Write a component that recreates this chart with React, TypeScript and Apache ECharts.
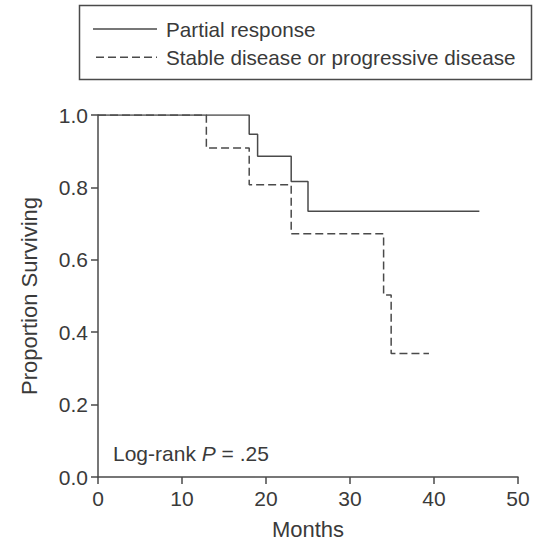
import React, { useEffect, useRef } from "react";
import * as echarts from "echarts";

const seriesNames = ["Partial response", "Stable disease or progressive disease"];
const partialMonths = [0, 18, 19, 23, 25, 45.4];
const partialSurvival = [1.0, 0.947, 0.886, 0.816, 0.734, 0.734];
const stableMonths = [0, 12.9, 18, 23, 34, 34.9, 39.4];
const stableSurvival = [1.0, 0.909, 0.807, 0.672, 0.503, 0.341, 0.341];
const xTicks = [0, 10, 20, 30, 40, 50];
const yTicks = [0, 0.2, 0.4, 0.6, 0.8, 1.0];
const annotation = { prefix: "Log-rank ", stat: "P", suffix: " = .25" };

const FONT = "Liberation Sans, Arial, Helvetica, sans-serif";
const INK = "#3a3a3a";
const LINE = "#4a4a4a";
const DASH = [8, 4];

export default function App() {
  const ref = useRef<HTMLDivElement>(null);
  useEffect(() => {
    document.body.style.margin = "0";
    if (!ref.current) return;
    const chart = echarts.init(ref.current, null, { renderer: "svg" });
    const zip = (xs: number[], ys: number[]) => xs.map((x, i) => [x, ys[i]]);
    const legendRows = [
      { y: 29, x1: 93, dash: null as number[] | null },
      { y: 57.3, x1: 96, dash: DASH },
    ];
    const legendGraphics: any[] = [];
    legendRows.forEach((row, i) => {
      legendGraphics.push({
        type: "line",
        shape: { x1: row.x1, y1: row.y, x2: 157, y2: row.y },
        style: { stroke: LINE, lineWidth: 1.5, lineDash: row.dash || undefined },
        silent: true,
      });
      legendGraphics.push({
        type: "text",
        x: 166,
        y: row.y,
        style: {
          text: seriesNames[i],
          fontSize: 20.7,
          fontFamily: FONT,
          fill: INK,
          verticalAlign: "middle",
          align: "left",
        },
      });
    });
    chart.setOption({
      animation: false,
      backgroundColor: "#fff",
      textStyle: { fontFamily: FONT, color: INK },
      grid: { left: 98, right: 23, top: 115, bottom: 64.5 },
      xAxis: {
        type: "value",
        min: xTicks[0],
        max: xTicks[xTicks.length - 1],
        interval: 10,
        name: "Months",
        nameLocation: "middle",
        nameGap: 41,
        nameTextStyle: { fontSize: 22, color: INK, fontFamily: FONT },
        axisLine: { onZero: false, lineStyle: { color: LINE, width: 1.5 } },
        axisTick: { inside: false, length: 7, lineStyle: { color: LINE, width: 1.5 } },
        axisLabel: { fontSize: 21, color: INK, margin: 11, fontFamily: FONT },
        splitLine: { show: false },
      },
      yAxis: {
        type: "value",
        min: yTicks[0],
        max: yTicks[yTicks.length - 1],
        interval: 0.2,
        name: "Proportion Surviving",
        nameLocation: "middle",
        nameGap: 58,
        nameTextStyle: { fontSize: 22, color: INK, fontFamily: FONT },
        axisLine: { show: true, onZero: false, lineStyle: { color: LINE, width: 1.5 } },
        axisTick: { show: true, inside: false, length: 7, lineStyle: { color: LINE, width: 1.5 } },
        axisLabel: {
          fontSize: 21,
          color: INK,
          margin: 10,
          fontFamily: FONT,
          formatter: (v: number) => v.toFixed(1),
        },
        splitLine: { show: false },
      },
      graphic: [
        {
          type: "rect",
          shape: { x: 79.5, y: 5.5, width: 452, height: 74 },
          style: { fill: "none", stroke: LINE, lineWidth: 1.5 },
          silent: true,
        },
        ...legendGraphics,
        {
          type: "text",
          x: 113,
          y: 453,
          style: {
            text: `{n|${annotation.prefix}}{i|${annotation.stat}}{n|${annotation.suffix}}`,
            verticalAlign: "middle",
            rich: {
              n: { fontSize: 21, fontFamily: FONT, fill: INK },
              i: { fontSize: 21, fontFamily: FONT, fill: INK, fontStyle: "italic" },
            },
          },
        },
      ],
      series: [
        {
          name: seriesNames[0],
          type: "line",
          step: "end",
          symbol: "none",
          data: zip(partialMonths, partialSurvival),
          lineStyle: { color: LINE, width: 1.5, type: "solid" },
          itemStyle: { color: LINE },
        },
        {
          name: seriesNames[1],
          type: "line",
          step: "end",
          symbol: "none",
          data: zip(stableMonths, stableSurvival),
          lineStyle: { color: LINE, width: 1.5, type: DASH },
          itemStyle: { color: LINE },
        },
      ],
    });
    return () => chart.dispose();
  }, []);
  return <div ref={ref} style={{ width: 541, height: 545 }} />;
}
